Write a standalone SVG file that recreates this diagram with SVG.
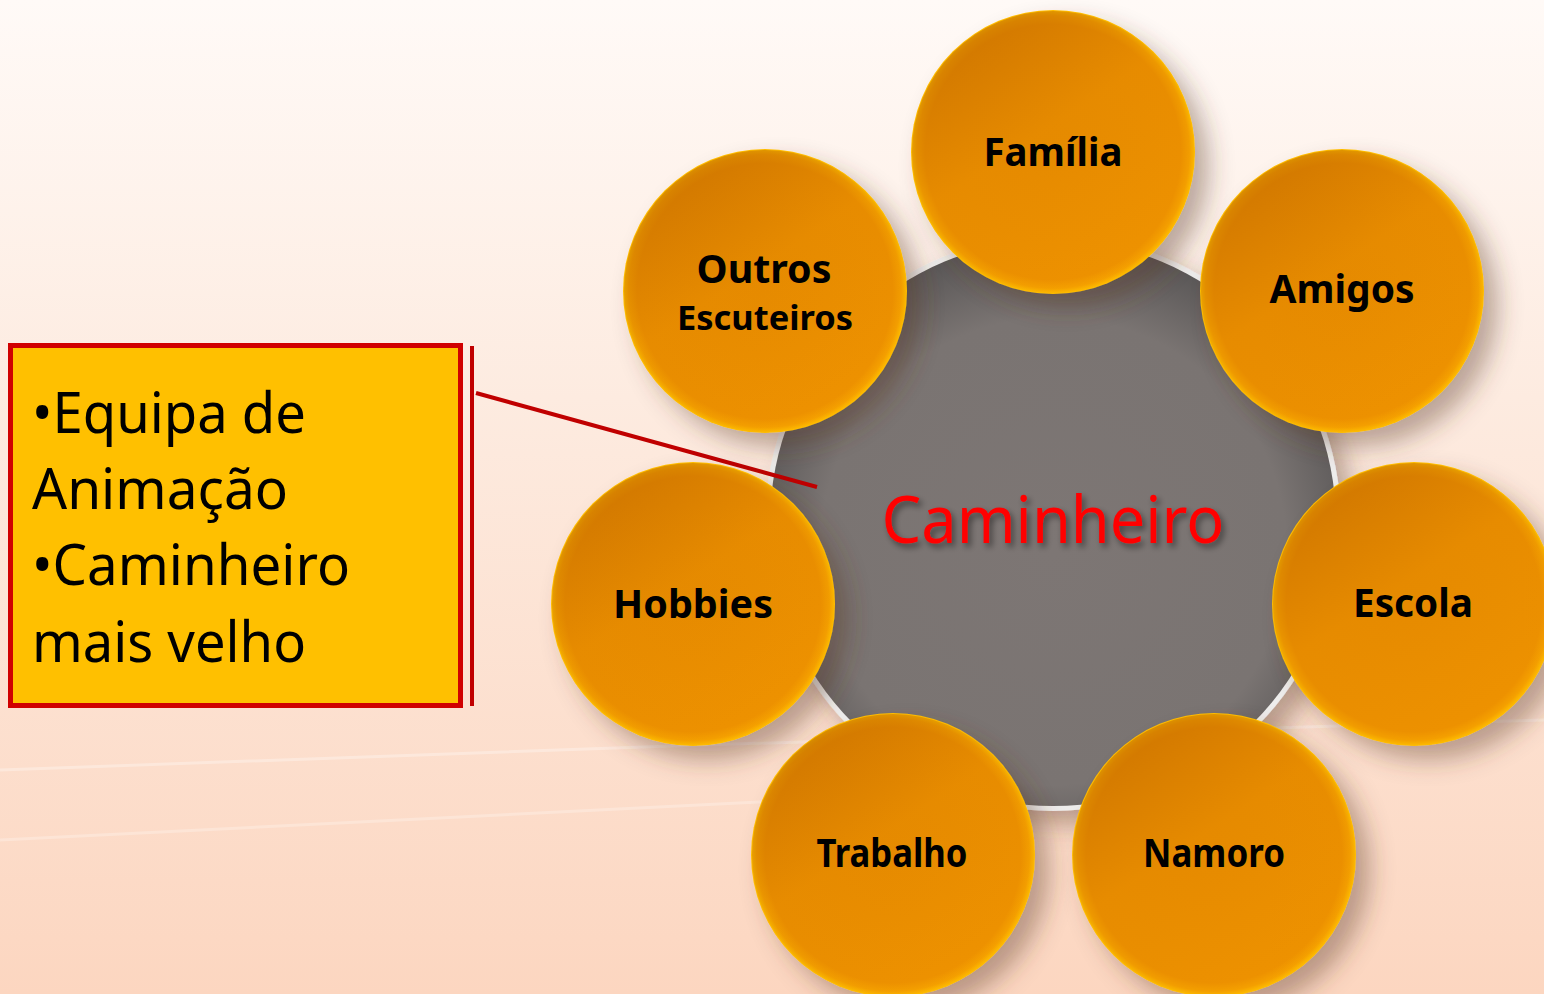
<svg xmlns="http://www.w3.org/2000/svg" width="1544" height="994" viewBox="0 0 1544 994">
<defs>
<linearGradient id="bg" x1="0" y1="0" x2="0" y2="1">
<stop offset="0" stop-color="#FFFAF7"/>
<stop offset="0.4" stop-color="#FDEBE0"/>
<stop offset="1" stop-color="#FCD6C0"/>
</linearGradient>
<radialGradient id="orb" cx="0.5" cy="0.5" r="0.5">
<stop offset="0" stop-color="#EC9000"/>
<stop offset="0.9" stop-color="#EE9200"/>
<stop offset="0.96" stop-color="#F5A000"/>
<stop offset="1" stop-color="#FFBE00"/>
</radialGradient>
<linearGradient id="orbShade" x1="0.15" y1="0.05" x2="0.75" y2="0.95">
<stop offset="0" stop-color="#A85200" stop-opacity="0.45"/>
<stop offset="0.45" stop-color="#A85200" stop-opacity="0.1"/>
<stop offset="1" stop-color="#A85200" stop-opacity="0"/>
</linearGradient>
<radialGradient id="hub" cx="0.5" cy="0.55" r="0.55">
<stop offset="0" stop-color="#7D7674"/>
<stop offset="0.75" stop-color="#7A7472"/>
<stop offset="1" stop-color="#5A5757"/>
</radialGradient>
<filter id="sh" x="-30%" y="-30%" width="170%" height="170%">
<feDropShadow dx="14" dy="14" stdDeviation="12" flood-color="#5a3a2a" flood-opacity="0.4"/>
</filter>
<filter id="tsh" x="-10%" y="-30%" width="120%" height="160%">
<feDropShadow dx="3" dy="4" stdDeviation="3" flood-color="#000" flood-opacity="0.45"/>
</filter>
</defs>
<style>
.orb{fill:url(#orb);}
.shade{fill:url(#orbShade);}
.lbl{font-family:"Noto Sans","Liberation Sans",sans-serif;font-weight:bold;font-size:40px;fill:#000;text-anchor:middle;}
.box{font-family:"Noto Sans","Liberation Sans",sans-serif;font-size:56px;fill:#000;}
.red{stroke:#C00000;fill:none;}
</style>
<rect width="1544" height="994" fill="url(#bg)"/>
<path d="M0 770 L700 745 L1544 720" stroke="#FFFFFF" stroke-opacity="0.3" stroke-width="3" fill="none"/>
<path d="M0 840 L800 800" stroke="#FFFFFF" stroke-opacity="0.25" stroke-width="3" fill="none"/>

<g id="hub-node">
<circle cx="1053" cy="523" r="288" fill="#EEEDEC" filter="url(#sh)"/>
<circle cx="1053" cy="523" r="283" fill="url(#hub)"/>
<text x="1053" y="543" font-family="Noto Sans, Liberation Sans, sans-serif" font-size="66" fill="#FF0000" text-anchor="middle" textLength="343" lengthAdjust="spacingAndGlyphs" filter="url(#tsh)">Caminheiro</text>
</g>

<g id="connectors">
<line class="red" x1="476" y1="393" x2="817" y2="487" stroke-width="4"/>
<line class="red" x1="472" y1="346" x2="472" y2="706" stroke-width="4"/>
</g>

<g id="callout">
<rect x="10.5" y="345.5" width="450" height="360" fill="#FFC000" stroke="#D00000" stroke-width="5"/>
<text class="box" x="32" y="433" textLength="274" lengthAdjust="spacingAndGlyphs">•Equipa de</text>
<text class="box" x="32" y="509" textLength="256" lengthAdjust="spacingAndGlyphs">Animação</text>
<text class="box" x="32" y="585" textLength="318" lengthAdjust="spacingAndGlyphs">•Caminheiro</text>
<text class="box" x="32" y="662" textLength="274" lengthAdjust="spacingAndGlyphs">mais velho</text>
</g>

<g id="familia">
<circle cx="1053" cy="152" r="142" class="orb" filter="url(#sh)"/>
<circle cx="1053" cy="152" r="141" class="shade"/>
<text class="lbl" x="1053" y="166" textLength="139" lengthAdjust="spacingAndGlyphs">Família</text>
</g>
<g id="amigos">
<circle cx="1342" cy="291" r="142" class="orb" filter="url(#sh)"/>
<circle cx="1342" cy="291" r="141" class="shade"/>
<text class="lbl" x="1342" y="303" textLength="145" lengthAdjust="spacingAndGlyphs">Amigos</text>
</g>
<g id="escola">
<circle cx="1414" cy="604" r="142" class="orb" filter="url(#sh)"/>
<circle cx="1414" cy="604" r="141" class="shade"/>
<text class="lbl" x="1413" y="617" textLength="120" lengthAdjust="spacingAndGlyphs">Escola</text>
</g>
<g id="namoro">
<circle cx="1214" cy="855" r="142" class="orb" filter="url(#sh)"/>
<circle cx="1214" cy="855" r="141" class="shade"/>
<text class="lbl" x="1214" y="867" textLength="142" lengthAdjust="spacingAndGlyphs">Namoro</text>
</g>
<g id="trabalho">
<circle cx="893" cy="855" r="142" class="orb" filter="url(#sh)"/>
<circle cx="893" cy="855" r="141" class="shade"/>
<text class="lbl" x="892" y="867" textLength="151" lengthAdjust="spacingAndGlyphs">Trabalho</text>
</g>
<g id="hobbies">
<circle cx="693" cy="604" r="142" class="orb" filter="url(#sh)"/>
<circle cx="693" cy="604" r="141" class="shade"/>
<text class="lbl" x="693" y="618" textLength="160" lengthAdjust="spacingAndGlyphs">Hobbies</text>
</g>
<g id="outros">
<circle cx="765" cy="291" r="142" class="orb" filter="url(#sh)"/>
<circle cx="765" cy="291" r="141" class="shade"/>
<text class="lbl" x="764" y="283" textLength="135" lengthAdjust="spacingAndGlyphs">Outros</text>
<text class="lbl" x="765" y="330" style="font-size:34px" textLength="176" lengthAdjust="spacingAndGlyphs">Escuteiros</text>
</g>
</svg>
